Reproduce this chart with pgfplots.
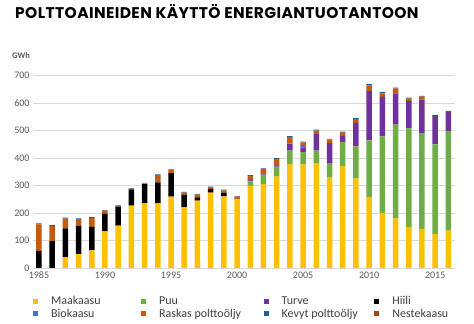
\documentclass[border=0pt]{standalone}
\usepackage{pgfplots}
\pgfplotsset{compat=1.18}
\usepackage{pgfplotstable}
\usepackage{fontspec}
\setmainfont{Carlito}
\newfontfamily\titlefont[LetterSpace=2.5]{Poppins}
\definecolor{cMaa}{HTML}{FFC000}
\definecolor{cPuu}{HTML}{70AD47}
\definecolor{cTurve}{HTML}{7030A0}
\definecolor{cHiili}{HTML}{000000}
\definecolor{cBio}{HTML}{4472C4}
\definecolor{cRaskas}{HTML}{C55A11}
\definecolor{cKevyt}{HTML}{255E91}
\definecolor{cNeste}{HTML}{9E480E}
\definecolor{tickgrey}{HTML}{595959}
\definecolor{leggrey}{HTML}{404040}
\definecolor{gridgrey}{HTML}{D9D9D9}

\pgfplotstableread{
year maa puu turve hiili bio raskas kevyt neste
1985 0   0   0   62  0 97 3 0
1986 0   0   0   98  0 55 3 0
1987 39  0   0   105 0 36 3 0
1988 51  0   0   103 0 24 3 0
1989 64  0   0   86  0 32 3 0
1990 133 0   0   64  0 12 2 0
1991 154 0   0   69  0 4  2 0
1992 227 0   0   59  0 3  2 0
1993 235 0   0   70  0 3  2 0
1994 235 0   0   77  0 27 2 0
1995 260 0   0   85  0 12 2 0
1996 221 0   0   45  0 8  3 0
1997 245 0   0   12  0 10 3 0
1998 274 0   0   14  0 6  2 0
1999 261 0   0   13  0 9  2 0
2000 252 0   0   0   0 8  2 0
2001 299 16  4   3   2 11 3 0
2002 305 34  2   0   2 18 2 0
2003 333 32  4   0   3 25 3 0
2004 379 48  24  0   3 22 4 0
2005 377 45  17  0   6 12 3 0
2006 380 47  60  0   0 13 4 0
2007 329 51  75  0   0 13 2 0
2008 371 88  22  0   0 12 3 0
2009 325 118 85  0   0 14 4 0
2010 258 207 179 0   0 21 4 0
2011 201 278 144 0   0 13 5 0
2012 182 340 114 0   0 18 3 0
2013 149 359 96  3   0 10 3 0
2014 142 349 122 0   0 11 3 0
2015 124 326 101 3   0 0  3 0
2016 136 363 67  3   0 0  3 0
}\data

\begin{document}
\begin{tikzpicture}[x=1pt,y=1pt]
\path[use as bounding box] (0,0) rectangle (474,324);
\node[anchor=base west, inner sep=0pt, font=\titlefont\bfseries\fontsize{15.5}{18}\selectfont] at (15,305) {POLTTOAINEIDEN KÄYTTÖ ENERGIANTUOTANTOON};
\node[anchor=west, inner sep=0pt, text=tickgrey, font=\bfseries\fontsize{8.5}{10}\selectfont] at (12,268) {GWh};
\begin{axis}[
  at={(33pt,56pt)}, anchor=south west,
  scale only axis, width=422pt, height=192.3pt,
  ybar stacked, bar width=5.5pt,
  xmin=1984.55, xmax=2016.5, ymin=0, ymax=700,
  ytick={0,100,...,700},
  xtick={1985,1990,...,2015},
  /pgf/number format/assume math mode=true,
  xticklabel style={/pgf/number format/1000 sep={}},
  ticklabel style={text=tickgrey, font=\fontsize{10}{12}\selectfont},
  major tick length=0pt,
  axis x line*=bottom, axis y line*=left,
  x axis line style={gridgrey, line width=0.8pt, -},
  y axis line style={draw=none},
  ymajorgrids, grid style={gridgrey, line width=0.8pt},
  legend columns=4,
  legend cell align=left,
  legend image code/.code={\fill[#1] (0pt,-2.5pt) rectangle (5pt,2.5pt);},
  legend style={at={(0,-0.14)}, anchor=north west, draw=none, fill=none,
    inner sep=0pt, row sep=1pt, text=leggrey, font=\fontsize{12}{14}\selectfont,
    nodes={inner ysep=1pt},
    /tikz/column 1/.style={column sep=11pt},
    /tikz/column 2/.style={column sep=38.5pt},
    /tikz/column 3/.style={column sep=11pt},
    /tikz/column 4/.style={column sep=20.5pt},
    /tikz/column 5/.style={column sep=11pt},
    /tikz/column 6/.style={column sep=14.5pt},
    /tikz/column 7/.style={column sep=11pt}},
]
\addplot[fill=cMaa, draw=none] table[x=year, y=maa] {\data};
\addplot[fill=cPuu, draw=none] table[x=year, y=puu] {\data};
\addplot[fill=cTurve, draw=none] table[x=year, y=turve] {\data};
\addplot[fill=cHiili, draw=none] table[x=year, y=hiili] {\data};
\addplot[fill=cBio, draw=none] table[x=year, y=bio] {\data};
\addplot[fill=cRaskas, draw=none] table[x=year, y=raskas] {\data};
\addplot[fill=cKevyt, draw=none] table[x=year, y=kevyt] {\data};
\addplot[fill=cNeste, draw=none] table[x=year, y=neste] {\data};
\legend{Maakaasu, Puu, Turve, Hiili, Biokaasu, Raskas polttoöljy, Kevyt polttoöljy, Nestekaasu}
\end{axis}
\end{tikzpicture}
\end{document}
